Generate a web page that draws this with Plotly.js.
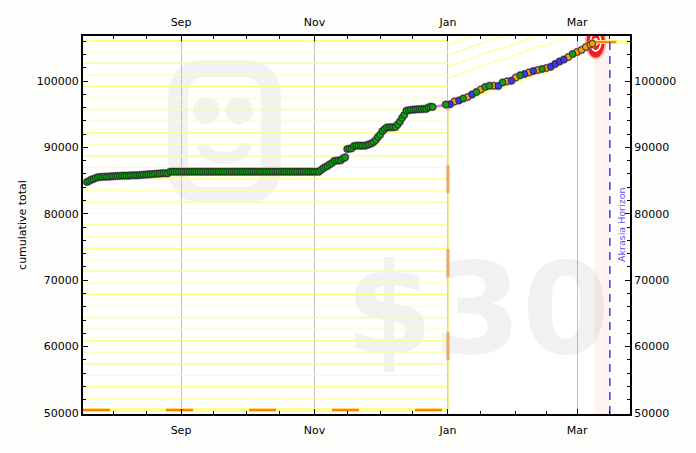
<!DOCTYPE html>
<html><head><meta charset="utf-8">
<script src="https://cdn.plot.ly/plotly-3.0.1.min.js"></script>
<style>html,body{margin:0;padding:0;background:#fefefc}</style></head>
<body><div id="g" style="width:696px;height:453px"></div>
<script>
const firstDay = '2014-07-20';
const summerValues = [84800,84950,85150,85250,85400,85500,85550,85560,85580,85580,85600,
 85650,85650,85700,85700,85700,85750,85750,85750,85750,85800,85800,85800,85800,
 85850,85850,85900,85900,85950,85950,86000,86000,86050,86050,86100,86100,86100,86100];
const flatValues = [86340,86340,86340,86340,86340,86340,86340,86340,86340,86340,
 86340,86340,86340,86340,86340,86340,86340,86340,86340,86340,
 86340,86340,86340,86340,86340,86340,86340,86340,86340,86340,
 86340,86340,86340,86340,86340,86340,86340,86340,86340,86340,
 86340,86340,86340,86340,86340,86340,86340,86340,86340,86340,
 86340,86340,86340,86340,86340,86340,86340,86340,86340,86340,
 86340,86340,86340,86340,86340,86340,86340,86340,86340];
const autumnValues = [86600,86850,87050,87200,87450,87650,87950,88000,88030,88060,88330,88500,
 89750,89800,89860,90200,90250,90260,90260,90260,90260,90350,90470,90600,90800,91100,91550,91900,
 92450,92750,93000,93020,93050,93050,93060,93450,93870,94430,94880,95530,95600,95650,95680,95700,
 95750,95750,95780,95780,95800,96000,96130,96100,null,null,null,null,null];
const winterValues = [96460,null,96490,null,96910,null,97070,null,97360,null,97590,null,97970,null,
 98340,null,98720,null,99100,null,99290,null,99280,null,99250,null,99770,null,99950,null,100050,
 null,100530,null,100860,null,101050,null,101280,null,101500,null,101650,null,101800,null,
 101960,null,102150,null,102560,null,102940,null,103240,null,103610,null,104070,null,104370,
 null,104670,null,105120,null,105450,105620];
const winterColours = ['g','g','b','o','o','g','b','b','g','g','o','o','b','b','g','o','o','g','g','g','g','o','o','b','b','b','g','g','o','b','b','o','o','g','g','g','b','b','o','o','b','o','o','b','g','g','o','o','b','b','b','b','b','b','b','b','o','o','g','g','o','o','o','o','o','o','o','o'];
const thinGuides = [52200,55680,59160,62640,66120,69600,73080,76560,80040,83520,87000,90480,93960,97440,100920,104400];
const thickGuides = [53940,57420,60900,64380,67860,71340,74820,78300,81780,85260,88740,92220,95700,99180,102660,106140];
const guideStart = '2014-07-10', guideEnd = '2015-01-01';
const riseDates = ['2015-01-01','2015-01-24','2015-01-25','2015-02-12','2015-02-14','2015-02-25','2015-03-20'];
const rise1 = [100400,103160,103010,105320,105170,106930,110000];
const rise2 = [102140,104900,104750,107060,106910,108670,112000];
const rise3 = [103880,106640,106490,108800,108650,110400,114000];
const rise4 = [105410,108200,108050,110400,110300,112000,116000];
const roadDates = ['2014-07-10','2015-01-01',null,'2015-01-01','2015-01-24','2015-01-25','2015-02-12','2015-02-14','2015-02-25','2015-03-09','2015-04-01'];
const roadValues = [50460,50460,null,96080,99100,98950,101350,101200,103160,105870,105870];
const jumpDates = ['2015-01-01','2015-01-01'];
const jumpValues = [50460,96080];
const dashDates = ['2014-07-18 05:00','2015-01-01'];
const dashValues = [50460,50460];
const jumpDashDates = ['2015-01-01','2015-01-01',null,'2015-01-01','2015-01-01',null,'2015-01-01','2015-01-01',null,'2015-01-01','2015-01-01'];
const jumpDashValues = [57983,62200,null,70483,74700,null,83133,87350,null,95633,96080];
const endDashDates = ['2015-03-09','2015-03-19'];
const endDashValues = [105870,105870];
const xRange = ['2014-07-18 05:00','2015-03-25 05:00'];
const yRange = [49850,106780];
const monthTicks = ['2014-09-01','2014-11-01','2015-01-01','2015-03-01'];
const monthLabels = ['Sep','Nov','Jan','Mar'];
const halfMonthTicks = ['2014-08-01','2014-08-16','2014-09-16','2014-10-01','2014-10-16','2014-11-16','2014-12-01','2014-12-16','2015-01-16','2015-02-01','2015-02-15','2015-03-16'];
const horizonDate = '2015-03-16', bandStart = '2015-03-09';
const targetDate = '2015-03-09 12:00', targetValue = 105870;

const allValues = summerValues.concat(flatValues, autumnValues, winterValues);
const colourMap = {g:'#12a012', b:'#3a3aee', o:'#f5a000'};
const start = Date.parse(firstDay + 'T00:00:00Z');
const xs = [], ys = [], keys = [];
const lead = allValues.length - winterValues.length;
allValues.forEach((v, i) => {
  if (v === null) return;
  xs.push(new Date(start + i * 864e5).toISOString().slice(0, 10));
  ys.push(v);
  keys.push(i < lead ? 'g' : winterColours[i - lead]);
});
const dotTrace = k => ({
  x: xs.filter((_, i) => keys[i] === k), y: ys.filter((_, i) => keys[i] === k), mode:'markers',
  marker:{size:6.5, color:colourMap[k], line:{color:'#1c1c1c', width:0.8}}, hoverinfo:'skip'});
function guideTrace(vals, color, width) {
  const x = [], y = [];
  vals.forEach(v => { x.push(guideStart, guideEnd, null); y.push(v, v, null); });
  return {x, y, mode:'lines', line:{color, width}, hoverinfo:'skip'};
}
const P = {l:83, r:630, t:36, b:414};
const px = x => (x - P.l) / (P.r - P.l), py = y => (P.b - y) / (P.b - P.t);
const wm = '#f2f2f2';
function pth(d) {
  return d.replace(/(-?[\d.]+) (-?[\d.]+)/g, (m, a, b) => px(+a).toFixed(4) + ' ' + py(+b).toFixed(4));
}
const shapes = [
 {type:'path', xref:'paper', yref:'paper', layer:'below', line:{color:wm, width:0}, fillcolor:wm, fillrule:'evenodd',
  path: pth('M 206 60 L 243 60 Q 281 60 281 100 L 281 165 Q 281 203 243 203 L 206 203 Q 168 203 168 165 L 168 100 Q 168 60 206 60 Z M 206 77 Q 188 77 188 97 L 188 168 Q 188 187 206 187 L 243 187 Q 261 187 261 168 L 261 97 Q 261 77 243 77 Z')},
 {type:'circle', xref:'paper', yref:'paper', layer:'below', line:{width:0}, fillcolor:wm, x0:px(193), x1:px(220), y0:py(97), y1:py(124)},
 {type:'circle', xref:'paper', yref:'paper', layer:'below', line:{width:0}, fillcolor:wm, x0:px(226), x1:px(253), y0:py(97), y1:py(124)},
 {type:'path', xref:'paper', yref:'paper', layer:'below', line:{color:wm, width:12}, fillcolor:'rgba(0,0,0,0)',
  path: pth('M 203 145 Q 206 158 225 158 Q 243 158 246 144')},
 {type:'rect', xref:'x', yref:'paper', layer:'below', x0:bandStart, x1:horizonDate, y0:0, y1:1, fillcolor:'#fff3f0', line:{width:0}}
];
[[10.5,17,'#ffa8a8'],[9,15.5,'#ee2020'],[6,10,'#ffffff'],[4.5,8,'#ee2020'],[2.5,4,'#ffffff']].forEach(r => {
  shapes.push({type:'circle', xref:'x', yref:'y', layer:'between', xsizemode:'pixel', ysizemode:'pixel',
    xanchor:targetDate, yanchor:targetValue, x0:-r[0], x1:r[0], y0:-r[1], y1:r[1], fillcolor:r[2], line:{width:0}});
});
const riseTrace = v => ({x:riseDates, y:v, mode:'lines', line:{color:'#ffff70', width:1}, hoverinfo:'skip'});
const traces = [
 {x:['2015-01-14 12:00'], y:[63750], mode:'text', text:['$30'], textposition:'middle center', cliponaxis:false,
  textfont:{family:'DejaVu Sans', size:127, weight:700, color:'rgba(0,0,25,0.055)'}, hoverinfo:'skip'},
 guideTrace(thinGuides,'#ffffa8',1),
 guideTrace(thickGuides,'#ffff88',1.5),
 riseTrace(rise1), riseTrace(rise2), riseTrace(rise3), riseTrace(rise4),
 {x:roadDates, y:roadValues, mode:'lines', line:{color:'#ffff9c', width:4}, hoverinfo:'skip'},
 {x:jumpDates, y:jumpValues, mode:'lines', line:{color:'#e8e070', width:1.5}, hoverinfo:'skip'},
 {x:dashDates, y:dashValues, mode:'lines', line:{color:'#ff8000', width:2.5, dash:'27px,56px'}, hoverinfo:'skip'},
 {x:jumpDashDates, y:jumpDashValues, mode:'lines', line:{color:'#e8a860', width:3}, hoverinfo:'skip'},
 {x:endDashDates, y:endDashValues, mode:'lines', line:{color:'#ff8c00', width:2.5}, hoverinfo:'skip'},
 {x:xs, y:ys, mode:'lines+markers', line:{color:'#b888c8', width:2.5}, marker:{size:8.5, color:'#b07cc4', line:{width:0}}, hoverinfo:'skip'},
 dotTrace('o'), dotTrace('b'), dotTrace('g'),
 {x:[horizonDate,horizonDate], y:yRange, xaxis:'x2', yaxis:'y2', mode:'lines', line:{color:'#3a3aff', width:1.5, dash:'8px,6px'}, hoverinfo:'skip'}
];
const tf = {family:'DejaVu Sans', size:11, color:'#000'};
const xBase = {type:'date', range:xRange, tickmode:'array', tickvals:monthTicks, ticktext:monthLabels, tickfont:tf,
  ticks:'inside', ticklen:5, tickwidth:1, tickcolor:'#000', showline:true, linecolor:'#000', linewidth:2, zeroline:false,
  minor:{tickmode:'array', tickvals:halfMonthTicks, ticks:'inside', ticklen:3, tickwidth:1, tickcolor:'#000', showgrid:false}};
const yBase = {range:yRange, tickmode:'linear', tick0:50000, dtick:10000, tickformat:'d', tickfont:tf,
  ticks:'inside', ticklen:5, tickwidth:1, tickcolor:'#000', showline:true, linecolor:'#000', linewidth:2, zeroline:false, showgrid:false,
  minor:{dtick:2000, tick0:50000, ticks:'inside', ticklen:3, tickwidth:1, tickcolor:'#000', showgrid:false}};
const layout = {
 width:696, height:453, showlegend:false,
 margin:{l:P.l, r:696-P.r, t:P.t, b:453-P.b, pad:0},
 paper_bgcolor:'#fefefc', plot_bgcolor:'#ffffff',
 xaxis:Object.assign({}, xBase, {side:'bottom', showgrid:true, gridcolor:'#c0c0c0', gridwidth:1, anchor:'y', ticklabelstandoff:5}),
 xaxis2:Object.assign({}, xBase, {side:'top', overlaying:'x', anchor:'y2', showgrid:false, ticklabelstandoff:4}),
 yaxis:Object.assign({}, yBase, {side:'left', anchor:'x', title:{text:'cumulative total', font:tf, standoff:8}}),
 yaxis2:Object.assign({}, yBase, {side:'right', overlaying:'y', anchor:'x2'}),
 shapes,
 annotations:[{xref:'paper', yref:'paper', x:px(621), y:py(225), xanchor:'center', yanchor:'middle', text:'Akrasia Horizon', textangle:-90, showarrow:false,
   font:{family:'DejaVu Sans', size:9.5, color:'#5555ee'}}]
};
Plotly.newPlot('g', traces, layout, {staticPlot:true, displayModeBar:false});
</script></body></html>
